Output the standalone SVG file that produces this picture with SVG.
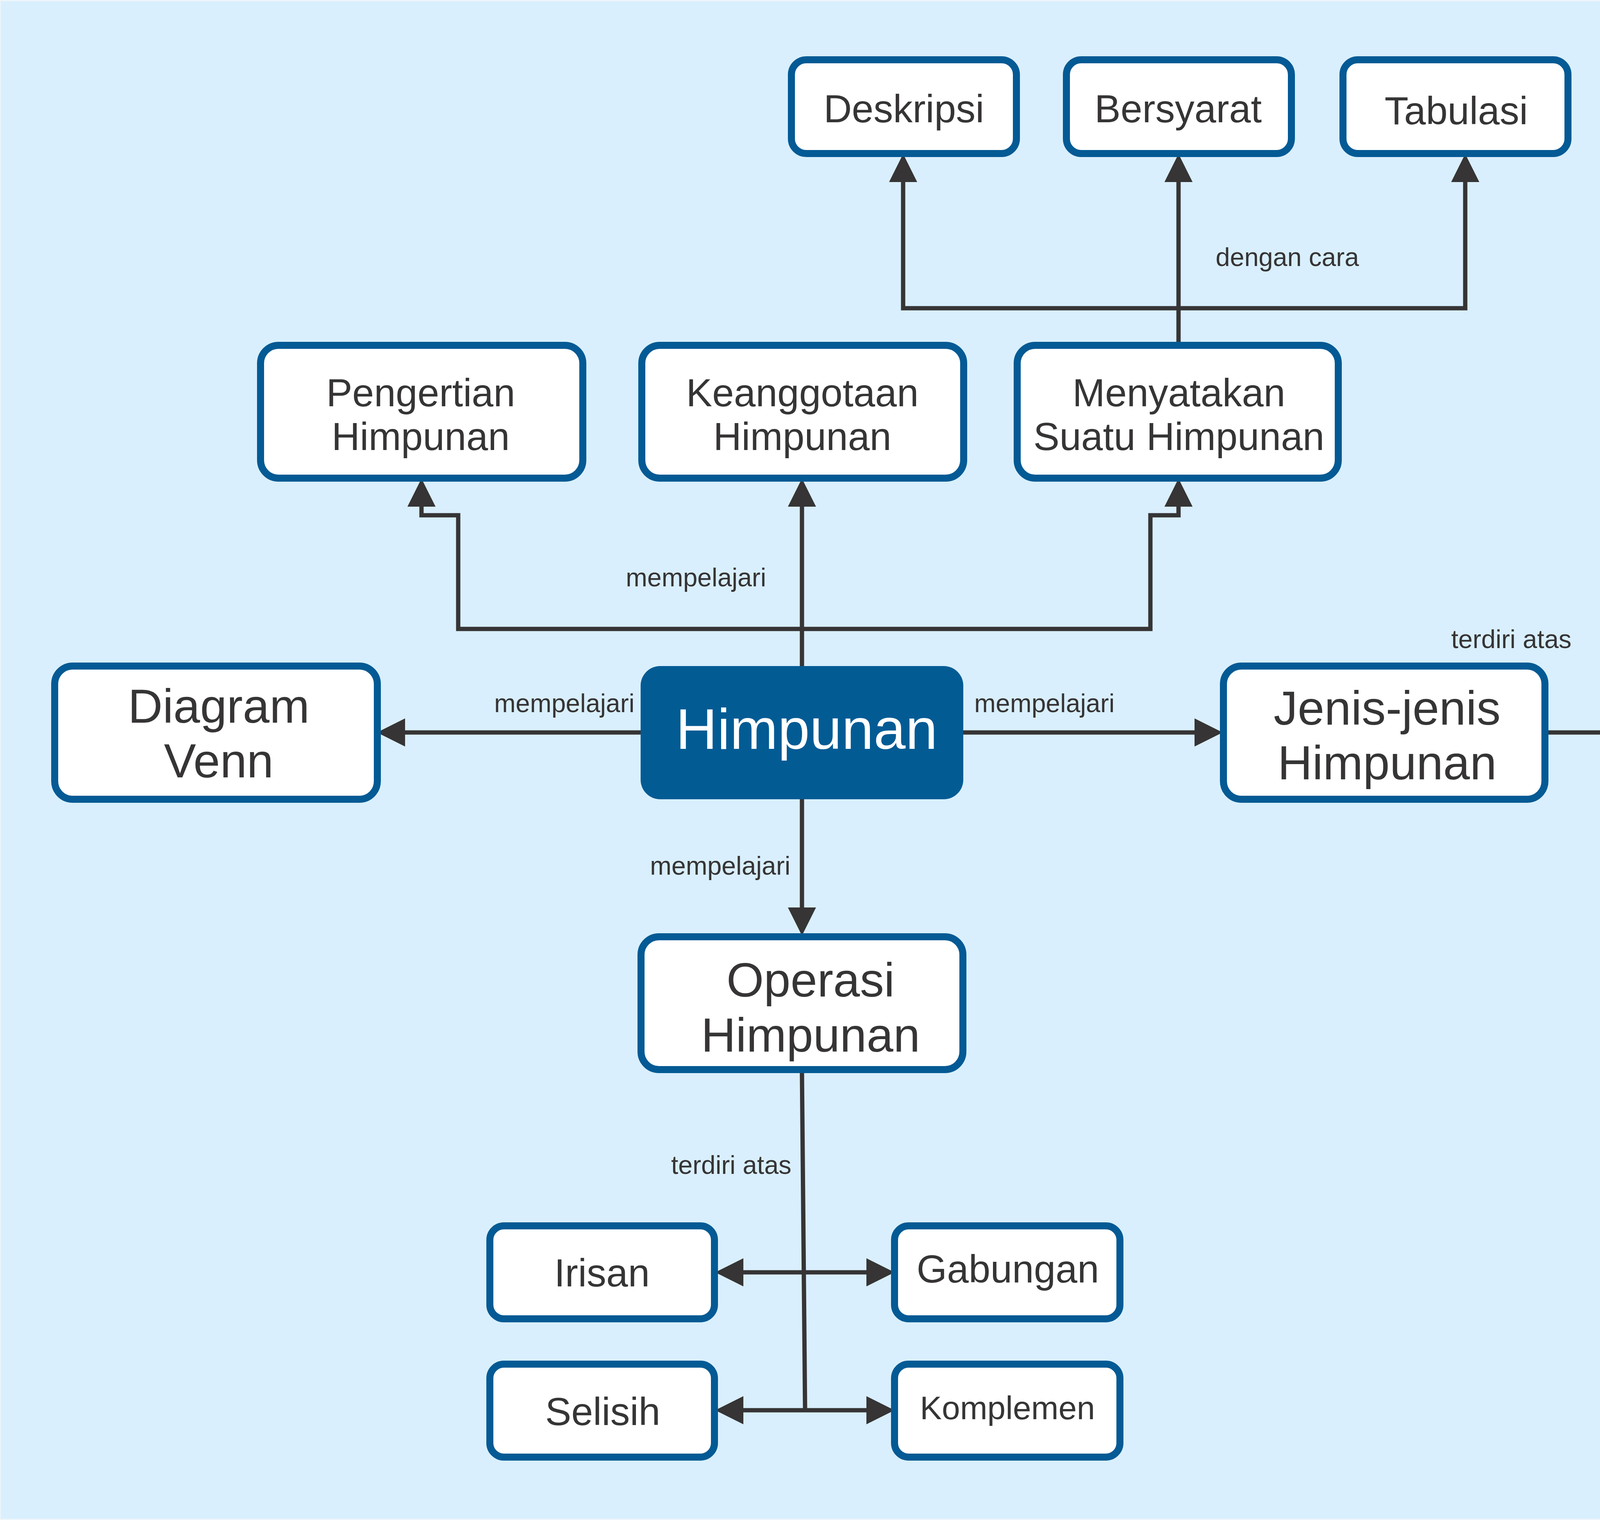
<svg xmlns="http://www.w3.org/2000/svg" width="6028" height="3891" viewBox="0 0 6028 3891">
<defs>
<style>
.node{fill:#ffffff;stroke:#045a94;stroke-width:18}
.main{fill:#035b94}
.t{font-family:"Liberation Sans",Arial,sans-serif;fill:#363435;text-anchor:middle}
.big{font-size:123px}
.mid{font-size:100px}
.lbl{font-family:"Liberation Sans",Arial,sans-serif;fill:#363435;font-size:66px}
.c{fill:none;stroke:#363435;stroke-width:11;stroke-linejoin:miter}
.a{marker-end:url(#ah)}
.aa{marker-start:url(#ah);marker-end:url(#ah)}
</style>
<marker id="ah" markerUnits="userSpaceOnUse" markerWidth="72" markerHeight="72" refX="0" refY="36" orient="auto-start-reverse" viewBox="0 0 72 72">
<path d="M0,0 L72,36 L0,72 z" fill="#363435"/>
</marker>
</defs>
<rect x="0" y="0" width="6028" height="3891" fill="#eef5f9"/>
<rect x="2" y="3" width="6024" height="3885" fill="#d9effd"/>

<g id="connectors">
<path class="c a" d="M3017,884 L3017,466"/>
<path class="c a" d="M3017,789 L2312,789 L2312,466"/>
<path class="c a" d="M3017,789 L3751,789 L3751,466"/>
<path class="c a" d="M2053,1705 L2053,1297"/>
<path class="c a" d="M2053,1610 L1173,1610 L1173,1319 L1079,1319 L1079,1297"/>
<path class="c a" d="M2053,1610 L2945,1610 L2945,1319 L3017,1319 L3017,1297"/>
<path class="c a" d="M1640,1875 L1037,1875"/>
<path class="c a" d="M2466,1875 L3058,1875"/>
<path class="c a" d="M2053,2046 L2053,2323"/>
<path class="c a" d="M3964,1875 L4705,1875"/>
<path class="c aa" d="M4705,1523 L4116,1523 L4116,2224 L4705,2224"/>
<path class="c" d="M2053,2746 L2061,3610"/>
<path class="c aa" d="M1903,3257 L2218,3257"/>
<path class="c aa" d="M1903,3610 L2218,3610"/>
<text class="lbl" x="3112" y="681">dengan cara</text>
<text class="lbl" x="1602" y="1501">mempelajari</text>
<text class="lbl" x="1265" y="1823">mempelajari</text>
<text class="lbl" x="2494" y="1823">mempelajari</text>
<text class="lbl" x="3715" y="1659">terdiri atas</text>
<text class="lbl" x="1664" y="2239">mempelajari</text>
<text class="lbl" x="1718" y="3005">terdiri atas</text>
</g>

<g id="himpunan">
<rect class="main" x="1640" y="1705" width="826" height="341" rx="50" ry="50"/>
<text class="t" x="2065" y="1917" style="font-size:147px;fill:#ffffff">Himpunan</text>
</g>
<g id="diagram-venn">
<rect class="node" x="140" y="1705" width="826" height="341" rx="46" ry="46"/>
<text class="t big" x="560" y="1850">Diagram</text>
<text class="t big" x="560" y="1990">Venn</text>
</g>
<g id="jenis-jenis">
<rect class="node" x="3132" y="1705" width="823" height="341" rx="46" ry="46"/>
<text class="t big" x="3551" y="1855">Jenis-jenis</text>
<text class="t big" x="3551" y="1995">Himpunan</text>
</g>
<g id="operasi">
<rect class="node" x="1641" y="2398" width="824" height="340" rx="46" ry="46"/>
<text class="t big" x="2075" y="2551">Operasi</text>
<text class="t big" x="2075" y="2692">Himpunan</text>
</g>
<g id="pengertian">
<rect class="node" x="667" y="884" width="825" height="340" rx="46" ry="46"/>
<text class="t mid" x="1077" y="1040">Pengertian</text>
<text class="t mid" x="1077" y="1152">Himpunan</text>
</g>
<g id="keanggotaan">
<rect class="node" x="1643" y="884" width="824" height="340" rx="46" ry="46"/>
<text class="t mid" x="2054" y="1040">Keanggotaan</text>
<text class="t mid" x="2054" y="1152">Himpunan</text>
</g>
<g id="menyatakan">
<rect class="node" x="2604" y="884" width="822" height="340" rx="46" ry="46"/>
<text class="t mid" x="3018" y="1040">Menyatakan</text>
<text class="t mid" x="3018" y="1152">Suatu Himpunan</text>
</g>
<g id="deskripsi">
<rect class="node" x="2026" y="153" width="576" height="240" rx="38" ry="38"/>
<text class="t mid" x="2314" y="313">Deskripsi</text>
</g>
<g id="bersyarat">
<rect class="node" x="2730" y="153" width="576" height="240" rx="38" ry="38"/>
<text class="t mid" x="3016" y="313">Bersyarat</text>
</g>
<g id="tabulasi">
<rect class="node" x="3438" y="153" width="576" height="240" rx="38" ry="38"/>
<text class="t mid" x="3728" y="318">Tabulasi</text>
</g>
<g id="kosong">
<rect class="node" x="4779" y="1417" width="1092" height="211" rx="32" ry="32"/>
<text class="t mid" x="5334" y="1564">Himpunan Kosong</text>
</g>
<g id="semesta">
<rect class="node" x="4779" y="1769" width="1092" height="212" rx="32" ry="32"/>
<text class="t mid" x="5334" y="1916">Himpunan Semesta</text>
</g>
<g id="bagian">
<rect class="node" x="4779" y="2118" width="1092" height="212" rx="32" ry="32"/>
<text class="t mid" x="5334" y="2259">Himpunan Bagian</text>
</g>
<g id="irisan">
<rect class="node" x="1254" y="3138" width="575" height="238" rx="36" ry="36"/>
<text class="t mid" x="1541" y="3293">Irisan</text>
</g>
<g id="selisih">
<rect class="node" x="1254" y="3492" width="575" height="238" rx="36" ry="36"/>
<text class="t mid" x="1543" y="3648">Selisih</text>
</g>
<g id="gabungan">
<rect class="node" x="2290" y="3138" width="577" height="238" rx="36" ry="36"/>
<text class="t mid" x="2580" y="3283">Gabungan</text>
</g>
<g id="komplemen">
<rect class="node" x="2290" y="3492" width="577" height="238" rx="36" ry="36"/>
<text class="t" x="2579" y="3633" style="font-size:84px">Komplemen</text>
</g>
</svg>
